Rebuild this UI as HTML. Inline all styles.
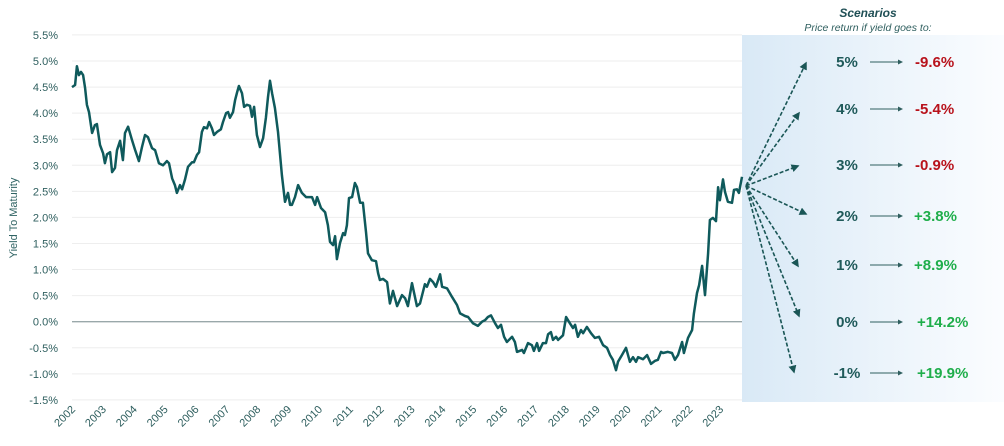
<!DOCTYPE html>
<html><head><meta charset="utf-8">
<style>
html,body{margin:0;padding:0;background:#fff;}
svg{display:block;font-family:"Liberation Sans",sans-serif;}
</style></head>
<body>
<svg id="chart" width="1004" height="446" viewBox="0 0 1004 446" xmlns="http://www.w3.org/2000/svg">
<defs>
<linearGradient id="pg" x1="0" y1="0" x2="1" y2="0">
<stop offset="0" stop-color="#d9e9f6"/><stop offset="1" stop-color="#fbfdff"/>
</linearGradient>
<marker id="ah" viewBox="0 0 10 10" refX="8" refY="5" markerWidth="5" markerHeight="5" orient="auto"><path d="M0,0L10,5L0,10z" fill="#1a5656"/></marker>
<marker id="ah2" viewBox="0 0 10 10" refX="8" refY="5" markerWidth="5" markerHeight="5" orient="auto"><path d="M0,0L10,5L0,10z" fill="#2f5f5f"/></marker>
</defs>
<rect x="742" y="35" width="262" height="367" fill="url(#pg)"/>
<g id="grid"></g>
<g id="yticks"></g>
<g id="xticks"></g>
<text transform="translate(17,218) rotate(-90)" text-anchor="middle" font-size="11" fill="#2f6363">Yield To Maturity</text>
<path id="line" fill="none" stroke="#0f5a5c" stroke-width="2.5" stroke-linejoin="round"/>
<g id="arrows"></g>
<text x="868" y="17" text-anchor="middle" font-size="12" font-weight="bold" font-style="italic" fill="#1f4f55">Scenarios</text>
<text x="868" y="31" text-anchor="middle" font-size="10.5" font-style="italic" fill="#2f5f5f">Price return if yield goes to:</text>
<g id="scen"></g>
</svg>
<script>
const months=[0,1.2,1.9,2.7,3.5,4.3,5.1,5.8,6.6,7.8,8.9,9.7,10.9,12.1,12.8,13.6,14.8,15.6,16.7,17.5,18.7,19.8,20.6,21.8,23.3,24.5,26.0,27.2,28.4,29.5,31.1,32.3,33.8,35.4,36.9,37.7,38.9,40.0,40.8,42.0,42.8,43.9,45.1,46.7,47.4,48.6,49.4,50.5,51.3,52.5,53.3,54.4,55.2,56.4,57.9,58.7,59.9,60.7,61.4,62.6,63.4,64.2,64.9,66.1,66.9,68.0,69.2,70.0,70.8,71.9,73.1,74.3,75.4,76.2,77.0,77.8,78.9,80.1,81.6,82.8,84.0,84.8,85.5,86.7,87.9,89.4,91.0,92.1,93.3,94.5,95.3,96.8,98.4,99.5,100.3,101.5,102.3,103.0,104.2,105.4,106.1,106.9,107.7,108.9,110.0,110.8,112.0,113.1,114.3,115.1,116.6,118.2,119.0,119.7,120.9,122.5,123.6,124.8,126.4,128.3,129.5,130.6,132.2,134.1,135.3,137.2,138.0,139.2,140.4,141.5,143.1,143.9,145.8,147.7,149.7,150.9,152.8,154.0,155.9,157.8,159.4,160.6,161.7,162.9,164.5,165.6,166.8,168.0,169.1,171.1,172.2,173.0,175.0,175.7,177.3,178.8,179.6,180.8,181.6,183.1,184.3,185.1,186.2,187.0,188.2,189.0,190.9,192.1,193.6,194.8,195.6,196.7,197.9,198.7,200.2,201.8,203.3,204.9,206.5,208.0,209.2,210.3,211.5,212.3,213.8,215.4,216.9,218.1,219.3,220.1,222.0,223.6,225.1,226.7,227.8,229.0,229.8,231.7,233.3,234.4,235.6,237.2,237.9,239.5,241.1,241.8,243.0,243.8,245.0,246.1,247.3,248.0,249.2,250.4,251.2,251.9,253.1,253.9,255.0,256.6,257.4,258.5,259.3,260.5];
const yields=[4.50,4.54,4.90,4.73,4.79,4.73,4.48,4.16,4.02,3.62,3.77,3.79,3.39,3.23,3.04,3.21,3.25,2.87,2.95,3.29,3.47,3.10,3.62,3.74,3.49,3.30,3.08,3.35,3.58,3.54,3.33,3.29,3.04,3.00,3.08,3.04,2.75,2.62,2.47,2.62,2.54,2.72,2.97,3.06,3.06,3.20,3.25,3.64,3.73,3.71,3.83,3.71,3.58,3.64,3.69,3.83,4.00,4.02,3.91,4.02,4.25,4.40,4.52,4.38,4.12,4.16,4.14,3.93,4.12,3.58,3.35,3.52,3.91,4.31,4.62,4.38,4.10,3.64,2.81,2.30,2.47,2.24,2.24,2.39,2.62,2.47,2.39,2.39,2.39,2.24,2.39,2.18,2.10,1.85,1.53,1.47,1.64,1.20,1.51,1.70,1.66,1.85,2.37,2.39,2.66,2.58,2.28,2.28,1.72,1.31,1.18,1.16,0.93,0.80,0.82,0.76,0.35,0.59,0.30,0.51,0.45,0.30,0.74,0.30,0.35,0.72,0.67,0.82,0.76,0.67,0.91,0.67,0.64,0.48,0.32,0.16,0.11,0.09,-0.03,-0.08,0.00,0.03,0.09,0.12,-0.03,-0.12,-0.06,-0.29,-0.39,-0.29,-0.39,-0.58,-0.54,-0.60,-0.41,-0.45,-0.56,-0.41,-0.56,-0.41,-0.41,-0.24,-0.20,-0.35,-0.29,-0.35,-0.26,0.09,-0.03,-0.12,-0.06,-0.29,-0.16,-0.22,-0.10,-0.22,-0.31,-0.29,-0.45,-0.50,-0.64,-0.73,-0.93,-0.77,-0.64,-0.50,-0.77,-0.68,-0.77,-0.68,-0.72,-0.64,-0.81,-0.75,-0.73,-0.58,-0.60,-0.58,-0.60,-0.73,-0.64,-0.39,-0.60,-0.31,-0.16,0.16,0.55,0.70,1.07,0.51,1.31,1.95,1.99,1.93,2.58,2.33,2.73,2.49,2.30,2.28,2.53,2.54,2.47,2.78];
const yTickVals=[5.5,5,4.5,4,3.5,3,2.5,2,1.5,1,0.5,0,-0.5,-1,-1.5];
const yearLabels=[2002,2003,2004,2005,2006,2007,2008,2009,2010,2011,2012,2013,2014,2015,2016,2017,2018,2019,2020,2021,2022,2023];
const scenYields=["5%","4%","3%","2%","1%","0%","-1%"];
const scenReturns=["-9.6%","-5.4%","-0.9%","+3.8%","+8.9%","+14.2%","+19.9%"];

const NS="http://www.w3.org/2000/svg";
const X0=72,PXM=2.572,Y0=321.7,PYU=52.14;
const xs=m=>X0+m*PXM, ys=v=>Y0-v*PYU;
function mk(tag,attrs,parent){const e=document.createElementNS(NS,tag);for(const k in attrs)e.setAttribute(k,attrs[k]);parent.appendChild(e);return e;}
const grid=document.getElementById('grid'),yt=document.getElementById('yticks'),xt=document.getElementById('xticks');
yTickVals.forEach(v=>{
  const l=mk('line',{x1:X0,x2:742,y1:ys(v),y2:ys(v),stroke:v===0?'#9aa8aa':'#eeeeee','stroke-width':v===0?1.3:1},grid);
  
  
  const t=mk('text',{x:58,y:ys(v)+4,'text-anchor':'end','font-size':11,fill:'#2f5f5f'},yt);
  
  
  t.textContent=v.toFixed(1)+'%';
});
yearLabels.forEach(y=>{
  const x=xs((y-2002)*12)+4;
  const t=mk('text',{x:0,y:0,transform:`translate(${x},410) rotate(-45)`,'text-anchor':'end','font-size':11,fill:'#2f5f5f'},xt);
  
  
  t.textContent=y;
});
document.getElementById('line').setAttribute('d',months.map((m,i)=>(i?'L':'M')+xs(m).toFixed(1)+','+ys(yields[i]).toFixed(1)).join(''));
const ox=xs(months[months.length-1])+4, oy=ys(yields[yields.length-1])+9;
const ends=[[806,63],[799,113],[798,166],[806,214],[798,266],[799,316],[794,372]];
const rows=[62,109,165,216,265,322,373];
const ar=document.getElementById('arrows'),sc=document.getElementById('scen');
scenYields.forEach((s,i)=>{
  const a=mk('line',{x1:ox,y1:oy,x2:ends[i][0],y2:ends[i][1],stroke:'#1a5656','stroke-width':1.6,'stroke-dasharray':'4,2','marker-end':'url(#ah)'},ar);
  
  
  const y=rows[i];
  const t=mk('text',{x:847,y:y+5,'text-anchor':'middle','font-size':15,'font-weight':'bold',fill:'#1f5a5a'},sc);
  
  
  t.textContent=s;
  const l=mk('line',{x1:870,y1:y,x2:902,y2:y,stroke:'#2f5f5f','stroke-width':1,'marker-end':'url(#ah2)'},sc);
  
  
  const pos=scenReturns[i][0]==='+';
  const r=mk('text',{x:i>=5?917:(pos?914:915),y:y+5,'font-size':15,'font-weight':'bold',fill:pos?'#1fae4b':'#b8121b'},sc);
  
  
  r.textContent=scenReturns[i];
});
</script>
</body></html>
